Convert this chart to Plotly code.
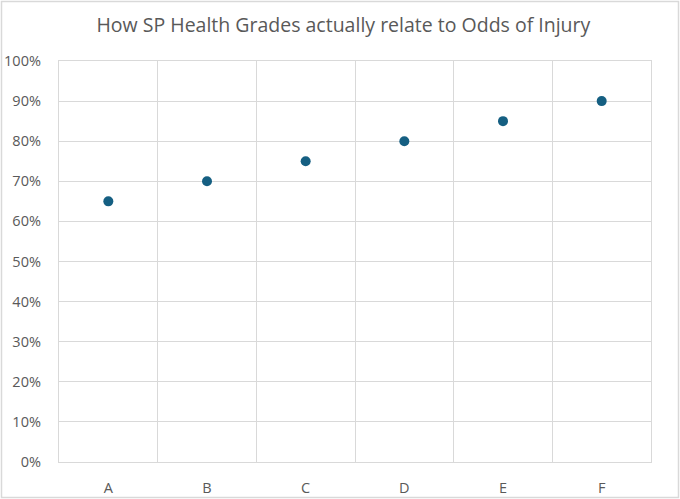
import plotly.graph_objects as go

grades = ['A', 'B', 'C', 'D', 'E', 'F']
odds_of_injury = [0.65, 0.70, 0.75, 0.80, 0.85, 0.90]
y_ticks = [i / 10 for i in range(11)]

W, H = 680, 499
L, R, T, B = 59, 29, 61, 37
pw, ph = W - L - R, H - T - B
GRID = '#d9d9d9'

fig = go.Figure()
fig.add_trace(go.Scatter(
    x=grades,
    y=odds_of_injury,
    mode='markers',
    marker=dict(size=10, color='#155F82'),
    showlegend=False,
))

# light border round the chart area, as in Excel
fig.add_shape(
    type='rect', xref='paper', yref='paper',
    x0=-(L - 1.5) / pw, x1=1 + (R - 1.5) / pw,
    y0=-(B - 1.5) / ph, y1=1 + (T - 1.5) / ph,
    line=dict(color=GRID, width=1.5),
)

fig.update_layout(
    width=W, height=H,
    margin=dict(l=L, r=R, t=T, b=B, autoexpand=False),
    paper_bgcolor='white',
    plot_bgcolor='white',
    font=dict(family='Open Sans, Liberation Sans, sans-serif', size=14.5, color='#595959'),
    title=dict(
        text='How SP Health Grades actually relate to Odds of Injury',
        x=0.505, xref='container', y=0.95, yref='container',
        xanchor='center', yanchor='middle',
        font=dict(size=19.5, color='#595959'),
    ),
    xaxis=dict(
        type='category',
        tickson='boundaries',
        showgrid=True, gridcolor=GRID, gridwidth=1.3,
        ticks='', ticklabelstandoff=12,
        showline=True, mirror=True, linecolor=GRID, linewidth=1.3,
        zeroline=False, automargin=False,
        range=[-0.5, 5.5],
    ),
    yaxis=dict(
        range=[0, 1],
        tickvals=y_ticks,
        tickformat='.0%',
        showgrid=True, gridcolor=GRID, gridwidth=1.3,
        ticks='', ticklabelstandoff=14,
        showline=True, mirror=True, linecolor=GRID, linewidth=1.3,
        zeroline=False, automargin=False,
    ),
)

fig.write_html('out.html', config={'displayModeBar': False},
               post_script="document.body.style.margin='0';")
